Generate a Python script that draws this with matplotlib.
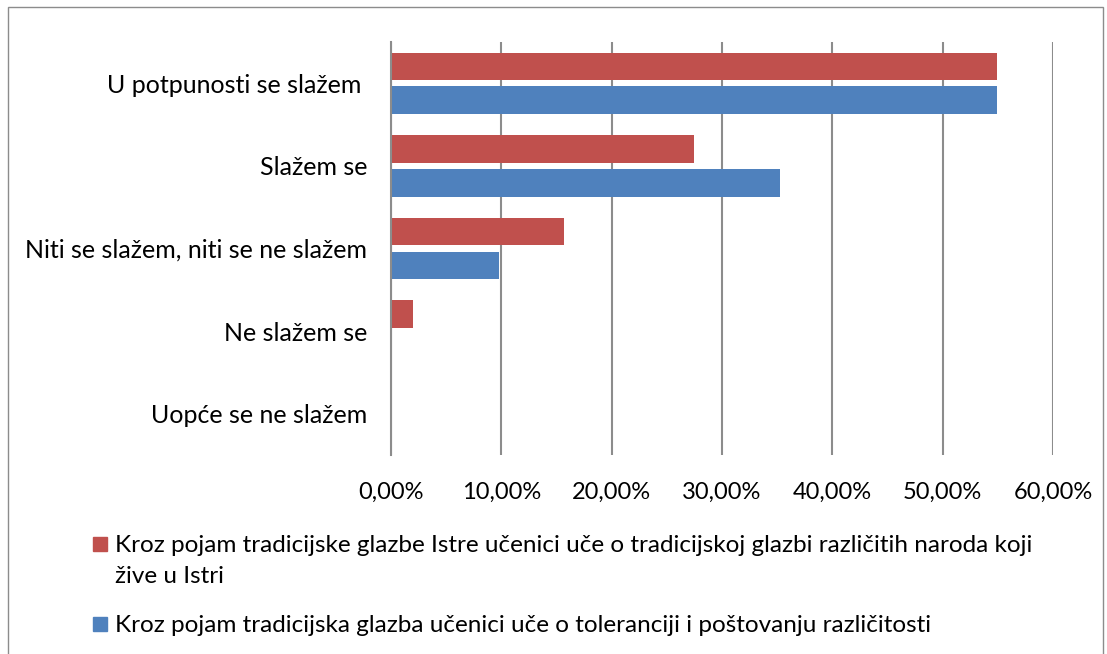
import matplotlib
matplotlib.use("Agg")
import matplotlib.pyplot as plt
from matplotlib.patches import Rectangle
from matplotlib.ticker import FuncFormatter
import numpy as np

# ============================
# Data
# ============================
categories = [
    "U potpunosti se slažem ",
    "Slažem se",
    "Niti se slažem, niti se ne slažem",
    "Ne slažem se",
    "Uopće se ne slažem",
]
red_values = [0.549, 0.2745, 0.1569, 0.0196, 0.0]
blue_values = [0.549, 0.3529, 0.098, 0.0, 0.0]
series_labels = [
    "Kroz pojam tradicijske glazbe Istre učenici uče o tradicijskoj glazbi različitih naroda koji\nžive u Istri",
    "Kroz pojam tradicijska glazba učenici uče o toleranciji i poštovanju različitosti",
]
xticks = [0.0, 0.1, 0.2, 0.3, 0.4, 0.5, 0.6]

RED = "#c0504d"
BLUE = "#4f81bd"
GRID = "#8c8c8c"

plt.rcParams["font.family"] = ["Lato", "DejaVu Sans"]

fig = plt.figure(figsize=(11.07, 6.54), dpi=100)
ax = fig.add_axes([391 / 1107, 1 - 455 / 654, (1053 - 391) / 1107, (455 - 42) / 654])

y = np.arange(len(categories))
h = 0.333
off = 0.205
ax.barh(y - off, red_values, height=h, color=RED)
ax.barh(y + off, blue_values, height=h, color=BLUE)

ax.set_ylim(len(categories) - 0.5, -0.5)
ax.set_xlim(0, 0.6)
ax.set_xticks(xticks)
ax.xaxis.set_major_formatter(FuncFormatter(lambda v, p: f"{v * 100:.2f}%".replace(".", ",")))
ax.set_yticks(y)
ax.set_yticklabels(categories)
ax.tick_params(axis="both", length=0, labelcolor="#000000")
ax.tick_params(axis="x", pad=19, labelsize=17)
ax.tick_params(axis="y", pad=17, labelsize=18)

ax.grid(axis="x", color=GRID, linewidth=1.5)
ax.set_axisbelow(True)
for s in ["top", "right", "bottom"]:
    ax.spines[s].set_visible(False)
ax.spines["left"].set_color(GRID)
ax.spines["left"].set_linewidth(1.5)

# legend drawn by hand (square aligned to first text line)
leg_sq = [544, 624]
leg_base = [552, 632]
line_step = 31
for lab, col, yc, yb in zip(series_labels, [RED, BLUE], leg_sq, leg_base):
    fig.patches.append(Rectangle((93 / 1107, 1 - (yc + 7) / 654), 14 / 1107, 14 / 654,
                                 transform=fig.transFigure, color=col))
    for i, line in enumerate(lab.split("\n")):
        fig.text(115 / 1107, 1 - (yb + i * line_step) / 654, line, fontsize=17.5,
                 va="baseline", ha="left")

# outer chart border
fig.patches.append(Rectangle((8 / 1107, -0.01), 1095 / 1107, 1 - 7 / 654 + 0.01,
                             transform=fig.transFigure, fill=False, edgecolor="#8c8c8c",
                             linewidth=1))

fig.savefig("out.png", dpi=100)
